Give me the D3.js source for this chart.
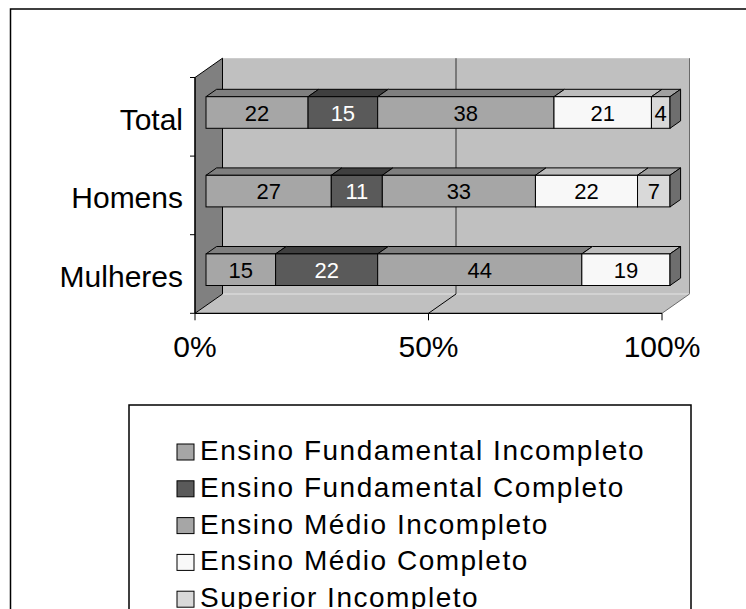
<!DOCTYPE html>
<html>
<head>
<meta charset="utf-8">
<script src="https://cdn.jsdelivr.net/npm/d3@7"></script>
<style>
  body { margin: 0; background: #fff; }
  text { font-family: "Liberation Sans", Arial, sans-serif; }
</style>
</head>
<body>
<script>
var categories = ['Total', 'Homens', 'Mulheres'];
var seriesNames = ['Ensino Fundamental Incompleto', 'Ensino Fundamental Completo',
  'Ensino Médio Incompleto', 'Ensino Médio Completo', 'Superior Incompleto'];
var fundIncompleto = [22, 27, 15];
var fundCompleto = [15, 11, 22];
var medioIncompleto = [38, 33, 44];
var medioCompleto = [21, 22, 19];
var superiorIncompleto = [4, 7, 0];
var xTicks = [0, 50, 100];
var xTickLabels = ['0%', '50%', '100%'];

var series = [fundIncompleto, fundCompleto, medioIncompleto, medioCompleto, superiorIncompleto];
var frontColors = ['#a6a6a6', '#5a5a5a', '#a6a6a6', '#f8f8f8', '#d9d9d9'];
var topColors = ['#7f7f7f', '#3f3f3f', '#7f7f7f', '#bdbdbd', '#a0a0a0'];
var labelColors = ['#000', '#fff', '#000', '#000', '#000'];

var width = 746;
var height = 609;
var svg = d3.select('body').append('svg')
  .attr('width', width)
  .attr('height', height);

// outer frame, runs past the right and bottom edges
svg.append('rect')
  .attr('x', 10.5).attr('y', 9)
  .attr('width', 760).attr('height', 640)
  .attr('fill', '#fff')
  .attr('stroke', '#000')
  .attr('stroke-width', 1.5);

var x = d3.scaleLinear().domain([0, 100]).range([195, 662]);
var y = d3.scaleBand().domain(categories).range([77.5, 313.3]);
var depth = [27.5, -19.3];
var y0 = y.range()[0], y1 = y.range()[1];

var pts = function(a) { return a.map(function(p) { return p.join(','); }).join(' '); };

// back wall
svg.append('rect')
  .attr('x', x(0) + depth[0]).attr('y', y0 + depth[1])
  .attr('width', x(100) - x(0)).attr('height', y1 - y0)
  .attr('fill', '#c0c0c0');
svg.append('line')
  .attr('x1', x(100) + depth[0]).attr('x2', x(100) + depth[0])
  .attr('y1', y0 + depth[1]).attr('y2', y1 + depth[1])
  .attr('stroke', '#6a6a6a').attr('stroke-width', 1);

// floor
svg.append('polygon')
  .attr('points', pts([[x(0), y1], [x(100), y1], [x(100) + depth[0], y1 + depth[1]], [x(0) + depth[0], y1 + depth[1]]]))
  .attr('fill', '#c0c0c0');
svg.append('line')
  .attr('x1', x(0) + depth[0]).attr('x2', x(100) + depth[0])
  .attr('y1', y1 + depth[1]).attr('y2', y1 + depth[1])
  .attr('stroke', '#e4e4e4').attr('stroke-width', 1);
svg.append('line')
  .attr('x1', x(100)).attr('y1', y1)
  .attr('x2', x(100) + depth[0]).attr('y2', y1 + depth[1])
  .attr('stroke', '#6a6a6a').attr('stroke-width', 1);

// left wall
svg.append('polygon')
  .attr('points', pts([[x(0), y0], [x(0) + depth[0], y0 + depth[1]], [x(0) + depth[0], y1 + depth[1]], [x(0), y1]]))
  .attr('fill', '#808080')
  .attr('stroke', '#000')
  .attr('stroke-width', 1);

// grid lines (inner ticks only)
xTicks.filter(function(t) { return t > 0 && t < 100; }).forEach(function(t) {
  svg.append('line')
    .attr('x1', x(t) + depth[0]).attr('x2', x(t) + depth[0])
    .attr('y1', y0 + depth[1]).attr('y2', y1 + depth[1])
    .attr('stroke', '#333').attr('stroke-width', 1);
  svg.append('line')
    .attr('x1', x(t)).attr('y1', y1)
    .attr('x2', x(t) + depth[0]).attr('y2', y1 + depth[1])
    .attr('stroke', '#000').attr('stroke-width', 1);
});

// axes
svg.append('line')
  .attr('x1', x(0)).attr('x2', x(100))
  .attr('y1', y1).attr('y2', y1)
  .attr('stroke', '#000').attr('stroke-width', 1.2);
svg.append('line')
  .attr('x1', x(0)).attr('x2', x(0))
  .attr('y1', y0).attr('y2', y1)
  .attr('stroke', '#000').attr('stroke-width', 1.2);

svg.selectAll('.xtick').data(xTicks).enter().append('line')
  .attr('class', 'xtick')
  .attr('x1', function(d) { return x(d); }).attr('x2', function(d) { return x(d); })
  .attr('y1', y1).attr('y2', y1 + 7)
  .attr('stroke', '#000');
svg.selectAll('.xlabel').data(xTicks).enter().append('text')
  .attr('class', 'xlabel')
  .attr('x', function(d) { return x(d); })
  .attr('y', 357)
  .attr('text-anchor', 'middle')
  .attr('font-size', 30)
  .text(function(d, i) { return xTickLabels[i]; });

var yTicks = categories.map(function(c) { return y(c); }).concat([y1]);
svg.selectAll('.ytick').data(yTicks).enter().append('line')
  .attr('class', 'ytick')
  .attr('x1', x(0) - 5).attr('x2', x(0))
  .attr('y1', function(d) { return d; }).attr('y2', function(d) { return d; })
  .attr('stroke', '#000');
svg.selectAll('.ylabel').data(categories).enter().append('text')
  .attr('class', 'ylabel')
  .attr('x', 183)
  .attr('y', function(d) { return y(d) + y.bandwidth() / 2 + 13; })
  .attr('text-anchor', 'end')
  .attr('font-size', 30)
  .text(function(d) { return d; });

// bars
var xb = d3.scaleLinear().domain([0, 100]).range([206, 670]);
var barTop = 19.2, barH = 31.6;
var bd = [10.6, -7.4];

categories.forEach(function(c, ci) {
  var top = y(c) + barTop;
  var acc = 0;
  var g = svg.append('g');
  series.forEach(function(s, si) {
    var v = s[ci];
    if (!v) return;
    var a = xb(acc), b = xb(acc + v);
    acc += v;
    g.append('polygon')
      .attr('points', pts([[a, top], [a + bd[0], top + bd[1]], [b + bd[0], top + bd[1]], [b, top]]))
      .attr('fill', topColors[si])
      .attr('stroke', '#000').attr('stroke-width', 1).attr('stroke-linejoin', 'round');
    g.append('rect')
      .attr('x', a).attr('y', top)
      .attr('width', b - a).attr('height', barH)
      .attr('fill', frontColors[si])
      .attr('stroke', '#000').attr('stroke-width', 1);
    g.append('text')
      .attr('x', (a + b) / 2)
      .attr('y', top + barH / 2 + 8)
      .attr('text-anchor', 'middle')
      .attr('font-size', 22)
      .attr('fill', labelColors[si])
      .text(v);
  });
  var e = xb(acc);
  g.append('polygon')
    .attr('points', pts([[e, top], [e + bd[0], top + bd[1]], [e + bd[0], top + bd[1] + barH], [e, top + barH]]))
    .attr('fill', '#6e6e6e')
    .attr('stroke', '#000').attr('stroke-width', 1).attr('stroke-linejoin', 'round');
});

// legend
var legend = svg.append('g');
legend.append('rect')
  .attr('x', 129).attr('y', 405)
  .attr('width', 562).attr('height', 260)
  .attr('fill', '#fff')
  .attr('stroke', '#000').attr('stroke-width', 1.5);
var item = legend.selectAll('.item').data(seriesNames).enter().append('g')
  .attr('class', 'item')
  .attr('transform', function(d, i) { return 'translate(0,' + (460 + i * 36.8) + ')'; });
item.append('rect')
  .attr('x', 177).attr('y', -16)
  .attr('width', 17).attr('height', 16)
  .attr('fill', function(d, i) { return frontColors[i]; })
  .attr('stroke', '#000').attr('stroke-width', 1);
item.append('text')
  .attr('x', 200).attr('y', 0)
  .attr('font-size', 28)
  .attr('letter-spacing', 1.5)
  .text(function(d) { return d; });
</script>
</body>
</html>
